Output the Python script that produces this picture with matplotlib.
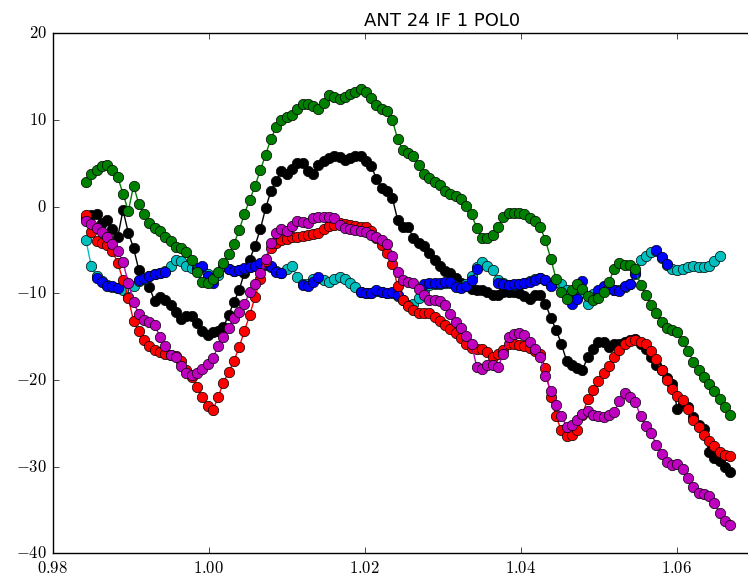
import numpy as np
import matplotlib
matplotlib.use("Agg")
import matplotlib.pyplot as plt
from matplotlib.ticker import FuncFormatter, MultipleLocator

plt.style.use('classic')
plt.rcParams['mathtext.fontset'] = 'cm'

nan = np.nan

# channel frequencies
f0 = 0.98430
df = 0.000677
nchan = 123
freq = f0 + df * np.arange(nchan)

# phase per channel, one list per trace (colour name -> values)
green = [2.8, 3.8, 4.2, 4.7, 4.8, 4.2, 3.4, 1.5, -0.5, 2.4,
         0.3, -0.9, -1.9, -2.5, -2.8, -3.5, -4.0, -4.6, -4.8, -5.2,
         -6.1, -7.5, -8.7, -8.8, -8.3, -7.5, -6.5, -5.5, -4.3, -2.7,
         -0.8, 0.8, 2.4, 4.2, 6.0, 7.8, 9.2, 10.0, 10.3, 10.6,
         11.3, 11.9, 11.9, 11.6, 11.3, 12.0, 12.9, 12.6, 12.4, 12.6,
         13.0, 13.2, 13.6, 13.2, 12.5, 11.7, 11.3, 11.0, 10.0, 7.8,
         6.5, 6.2, 5.8, 4.8, 3.8, 3.3, 2.9, 2.5, 1.8, 1.5,
         1.2, 0.9, 0.1, -0.9, -2.5, -3.6, -3.6, -3.3, -2.3, -1.2,
         -0.7, -0.7, -0.7, -0.9, -1.3, -1.6, -2.3, -3.9, -6.0, -8.3,
         -9.8, -10.7, -9.6, -8.9, -9.5, -10.3, -10.8, -10.5, -9.8, -8.7,
         -7.2, -6.5, -6.7, -6.7, -7.2, -9.0, -10.2, -11.3, -12.3, -13.3,
         -14.0, -14.2, -14.5, -15.5, -16.6, -17.9, -18.9, -19.7, -20.5, -21.3,
         -22.2, -23.1, -24.0]

black = [-1.3, -1.0, -0.9, -1.9, -1.5, -2.6, -3.5, -0.4, -3.0, -4.8,
         -7.3, -8.3, -9.3, -10.9, -10.4, -10.8, -11.4, -12.2, -13.0, -12.6,
         -12.6, -13.4, -14.4, -14.8, -14.5, -14.3, -13.9, -12.5, -11.0, -9.6,
         -7.6, -6.1, -4.5, -2.6, -0.2, 1.8, 3.0, 4.1, 3.8, 4.4,
         5.0, 5.0, 4.1, 3.8, 4.8, 5.3, 5.6, 5.8, 5.7, 5.4,
         5.6, 5.9, 5.8, 5.3, 4.7, 3.2, 2.2, 1.8, 1.0, -1.5,
         -2.3, -2.4, -3.6, -4.2, -4.5, -5.4, -6.1, -6.8, -7.4, -7.7,
         -8.2, -8.8, -9.2, -9.5, -9.6, -9.6, -9.9, -10.2, -10.2, -9.9,
         -9.9, -9.9, -10.0, -10.3, -10.6, -10.2, -10.2, -11.2, -12.8, -14.2,
         -15.8, -17.8, -18.3, -18.6, -18.9, -17.3, -16.4, -15.6, -15.6, -16.2,
         -15.9, -15.8, -15.6, -15.4, -15.3, -15.9, -16.4, -17.4, -18.3, -18.9,
         -19.8, -20.5, -23.4, -22.6, -23.1, -24.3, -25.2, -25.7, -28.3, -29.0,
         -29.3, -30.0, -30.6]

red = [-1.0, -2.9, -4.0, -4.2, -4.4, -5.1, -6.5, -8.5, -10.5, -13.2,
       -14.4, -15.4, -16.1, -16.5, -16.8, -17.0, -17.1, -17.2, -17.8, -18.8,
       -19.6, -20.8, -22.0, -23.0, -23.5, -22.0, -20.3, -19.1, -17.8, -16.2,
       -14.3, -12.5, -10.4, -8.4, -6.3, -4.8, -4.2, -3.9, -3.7, -3.5,
       -3.5, -3.4, -3.3, -3.2, -3.0, -2.6, -2.2, -2.1, -1.9, -2.0,
       -2.1, -2.2, -2.3, -2.4, -2.8, -3.6, -4.4, -5.3, -6.6, -9.2,
       -10.8, -11.5, -11.9, -12.3, -12.3, -12.3, -12.7, -13.2, -13.6, -14.1,
       -14.6, -15.2, -15.9, -16.3, -16.4, -16.4, -16.8, -17.3, -17.0, -16.5,
       -15.9, -15.9, -16.0, -16.1, -16.3, -16.6, -17.0, -18.6, -22.0, -24.2,
       -25.8, -26.5, -26.4, -25.8, -24.0, -22.2, -21.2, -20.1, -19.2, -18.4,
       -17.4, -16.5, -15.9, -15.5, -15.4, -15.6, -15.9, -16.6, -17.6, -18.9,
       -20.0, -21.0, -21.8, -22.3, -23.4, -24.6, -25.4, -26.3, -27.0, -27.6,
       -28.3, -28.7, -28.8]

magenta = [-1.7, -2.0, -2.5, -2.9, -3.5, -4.3, -5.1, -6.4, -8.8, -11.0,
           -12.4, -13.1, -13.3, -13.7, -15.0, -16.1, -17.1, -17.4, -18.4, -19.2,
           -19.4, -19.2, -18.7, -18.1, -17.5, -16.1, -15.0, -14.0, -12.8, -12.2,
           -11.2, -9.9, -8.9, -7.7, -6.0, -4.2, -3.0, -2.6, -2.8, -2.2,
           -1.7, -1.8, -1.9, -1.3, -1.2, -1.2, -1.2, -1.3, -2.1, -2.5,
           -2.6, -2.7, -2.8, -2.9, -3.3, -3.5, -3.8, -4.3, -5.7, -7.5,
           -8.5, -8.7, -8.8, -9.5, -10.2, -10.8, -10.8, -10.9, -11.3, -12.4,
           -13.3, -14.0, -14.9, -15.9, -18.5, -18.7, -18.3, -18.3, -18.5, -17.0,
           -15.0, -14.7, -14.6, -14.8, -15.6, -16.4, -17.4, -19.5, -21.3, -22.9,
           -24.1, -25.4, -25.2, -24.6, -23.9, -23.6, -24.0, -24.2, -24.3, -24.0,
           -23.7, -22.4, -21.5, -22.0, -22.5, -24.2, -25.3, -26.1, -27.5, -28.5,
           -29.5, -29.8, -29.7, -30.3, -31.3, -32.3, -33.0, -33.1, -33.4, -34.2,
           -35.4, -36.3, -36.7]

# blue covers channels 2..110 (nan = flagged), cyan 0..120
blue_start = 2
blue = [-8.2, -8.7, -9.1, -9.2, -9.4, nan, nan, nan,
        -8.5, -8.2, -8.0, -7.8, -7.6, -7.5, nan, nan, nan, nan,
        nan, -7.1, -6.9, -8.0, -8.8, nan, nan, -7.2, -7.4, -7.3,
        -7.1, -7.0, -6.8, -6.5, -6.6, -6.9, -7.5, -7.7, nan, nan,
        nan, -9.0, -9.2, -8.7, -8.1, nan, nan, nan, nan, nan,
        nan, nan, -9.9, -10.0, -10.0, -9.6, -9.9, -10.0, -9.9, -10.2,
        nan, nan, nan, nan, -8.9, -8.8, -8.8, -8.8, -8.7, -8.7,
        -9.3, -9.4, -9.1, -8.5, -7.2, nan, nan, nan, -8.8, -8.9,
        -9.0, -8.9, -8.9, -8.8, -8.7, -8.5, -8.2, -8.5, -9.2, nan,
        nan, nan, -11.2, -10.7, -8.6, nan, nan, -9.6, -9.2, -9.4,
        -9.6, -9.7, -9.2, -8.9, -7.6, nan, nan, nan, -5.0, -5.8,
        -6.6]

cyan = [-3.9, -6.9, -8.0, -8.6, -9.0, -9.3, -9.4, -9.6, -10.4, -9.2,
        -8.6, -8.3, -8.0, -7.8, -7.6, -7.4, -6.9, -6.2, -6.3, -6.9,
        -7.1, -7.2, -7.0, -7.8, -8.2, -7.9, -6.9, -7.2, -7.4, -7.3,
        -7.2, -7.0, -6.8, -6.6, -6.7, -7.0, -7.4, -7.6, -7.2, -6.9,
        -8.1, -8.9, -8.9, -8.4, -8.2, -8.5, -8.7, -8.3, -8.1, -8.3,
        -8.8, -9.3, -9.8, -10.0, -10.0, -9.7, -9.9, -10.0, -10.0, -10.3,
        -10.8, -11.3, -11.2, -10.5, -9.6, -9.0, -8.9, -8.9, -8.8, -8.8,
        -9.2, -9.3, -8.9, -8.0, -7.0, -6.4, -6.9, -7.3, -8.5, -8.8,
        -9.0, -9.0, -8.9, -8.8, -8.6, -8.4, -8.2, -8.5, -9.0, -8.7,
        -8.9, -9.6, -10.3, -10.4, -9.8, -11.2, -10.1, -9.7, -9.3, -9.4,
        -9.6, -9.6, -9.3, -8.9, -7.8, -6.2, -5.7, -5.2, -5.1, -5.9,
        -6.7, -7.2, -7.3, -7.2, -7.0, -6.9, -7.0, -7.0, -6.8, -6.3,
        -5.7]

fig = plt.figure(figsize=(7.48, 5.75), dpi=100)
ax = fig.add_axes([0.0702, 0.0377, 1.0428, 0.9043])

style = dict(marker='o', markersize=7.5, markeredgecolor='k',
             markeredgewidth=0.5, linewidth=1)
ax.plot(freq, black, color='k', **style)
ax.plot(freq[:len(cyan)], cyan, color='c', **style)
ax.plot(freq[blue_start:blue_start + len(blue)], blue, color='b', **style)
ax.plot(freq, green, color='g', **style)
ax.plot(freq, red, color='r', **style)
ax.plot(freq, magenta, color='m', **style)

ax.set_xlim(0.98, 1.08)
ax.set_ylim(-40, 20)
ax.xaxis.set_major_locator(MultipleLocator(0.02))
ax.yaxis.set_major_locator(MultipleLocator(10))
ax.xaxis.set_major_formatter(FuncFormatter(lambda v, p: r'$%.2f$' % v))
ax.yaxis.set_major_formatter(FuncFormatter(lambda v, p: r'$%d$' % round(v)))
ax.tick_params(labelsize=12)
ax.set_title('ANT 24 IF 1 POL0', fontsize=13)

fig.savefig('out.png', dpi=100)
